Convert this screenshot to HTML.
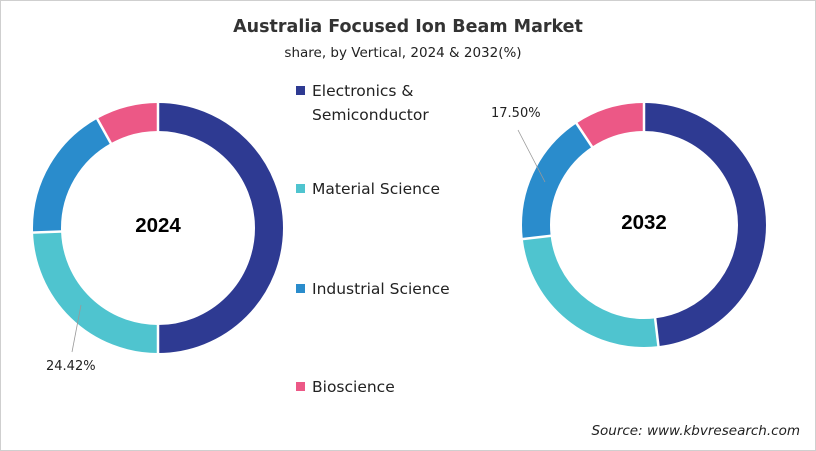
<!DOCTYPE html>
<html><head><meta charset="utf-8"><style>
body{margin:0;background:#fff}
svg{display:block;font-family:"DejaVu Sans",sans-serif}
</style></head><body>
<svg width="816" height="451" viewBox="0 0 816 451">
<rect x="0.5" y="0.5" width="815" height="450" fill="#fff" stroke="#cfcfcf"/>
<text x="408" y="32" text-anchor="middle" font-size="17.5" font-weight="bold" fill="#333">Australia Focused Ion Beam Market</text>
<text x="403" y="57" text-anchor="middle" font-size="13.5" fill="#222">share, by Vertical, 2024 &amp; 2032(%)</text>

<g transform="translate(158,228)">
 <g transform="rotate(-90)" fill="none" stroke-width="28">
  <circle r="111" stroke="#2e3a92" stroke-dasharray="348.7 697.4" stroke-dashoffset="0"/>
  <circle r="111" stroke="#4fc4cf" stroke-dasharray="170.3 697.4" stroke-dashoffset="-348.7"/>
  <circle r="111" stroke="#2a8ccc" stroke-dasharray="122 697.4" stroke-dashoffset="-519"/>
  <circle r="111" stroke="#ec5886" stroke-dasharray="56.4 697.4" stroke-dashoffset="-641"/>
 </g>
 <g stroke="#fff" stroke-width="2.5">
  <line x1="0" y1="-90" x2="0" y2="-130"/>
  <line x1="0" y1="-90" x2="0" y2="-130" transform="rotate(180)"/>
  <line x1="0" y1="-90" x2="0" y2="-130" transform="rotate(267.9)"/>
  <line x1="0" y1="-90" x2="0" y2="-130" transform="rotate(330.9)"/>
 </g>
 <text x="0" y="4" text-anchor="middle" font-size="20.5" font-weight="bold" fill="#000" font-family="Liberation Sans, sans-serif">2024</text>
</g>
<line x1="81" y1="305" x2="72" y2="352" stroke="#999" stroke-width="0.8"/>
<text x="46" y="370" font-size="13" fill="#222">24.42%</text>

<g transform="translate(644,225)">
 <g transform="rotate(-90)" fill="none" stroke-width="28">
  <circle r="108" stroke="#2e3a92" stroke-dasharray="326.4 678.6" stroke-dashoffset="0"/>
  <circle r="108" stroke="#4fc4cf" stroke-dasharray="170.3 678.6" stroke-dashoffset="-326.4"/>
  <circle r="108" stroke="#2a8ccc" stroke-dasharray="118.8 678.6" stroke-dashoffset="-496.7"/>
  <circle r="108" stroke="#ec5886" stroke-dasharray="63.1 678.6" stroke-dashoffset="-615.5"/>
 </g>
 <g stroke="#fff" stroke-width="2.5">
  <line x1="0" y1="-88" x2="0" y2="-127"/>
  <line x1="0" y1="-88" x2="0" y2="-127" transform="rotate(173.2)"/>
  <line x1="0" y1="-88" x2="0" y2="-127" transform="rotate(263.4)"/>
  <line x1="0" y1="-88" x2="0" y2="-127" transform="rotate(326.4)"/>
 </g>
 <text x="0" y="4" text-anchor="middle" font-size="20.5" font-weight="bold" fill="#000" font-family="Liberation Sans, sans-serif">2032</text>
</g>
<line x1="518" y1="130" x2="545" y2="182" stroke="#999" stroke-width="0.8"/>
<text x="491" y="117" font-size="13" fill="#222">17.50%</text>

<g font-size="15.5" fill="#222">
 <rect x="296" y="86" width="9" height="9" fill="#2e3a92"/>
 <text x="312" y="96">Electronics &amp;</text>
 <text x="312" y="120">Semiconductor</text>
 <rect x="296" y="184" width="9" height="9" fill="#4fc4cf"/>
 <text x="312" y="194">Material Science</text>
 <rect x="296" y="284" width="9" height="9" fill="#2a8ccc"/>
 <text x="312" y="294">Industrial Science</text>
 <rect x="296" y="382" width="9" height="9" fill="#ec5886"/>
 <text x="312" y="392">Bioscience</text>
</g>
<text x="800" y="435" text-anchor="end" font-size="13.5" font-style="italic" fill="#222">Source: www.kbvresearch.com</text>
</svg>
</body></html>
